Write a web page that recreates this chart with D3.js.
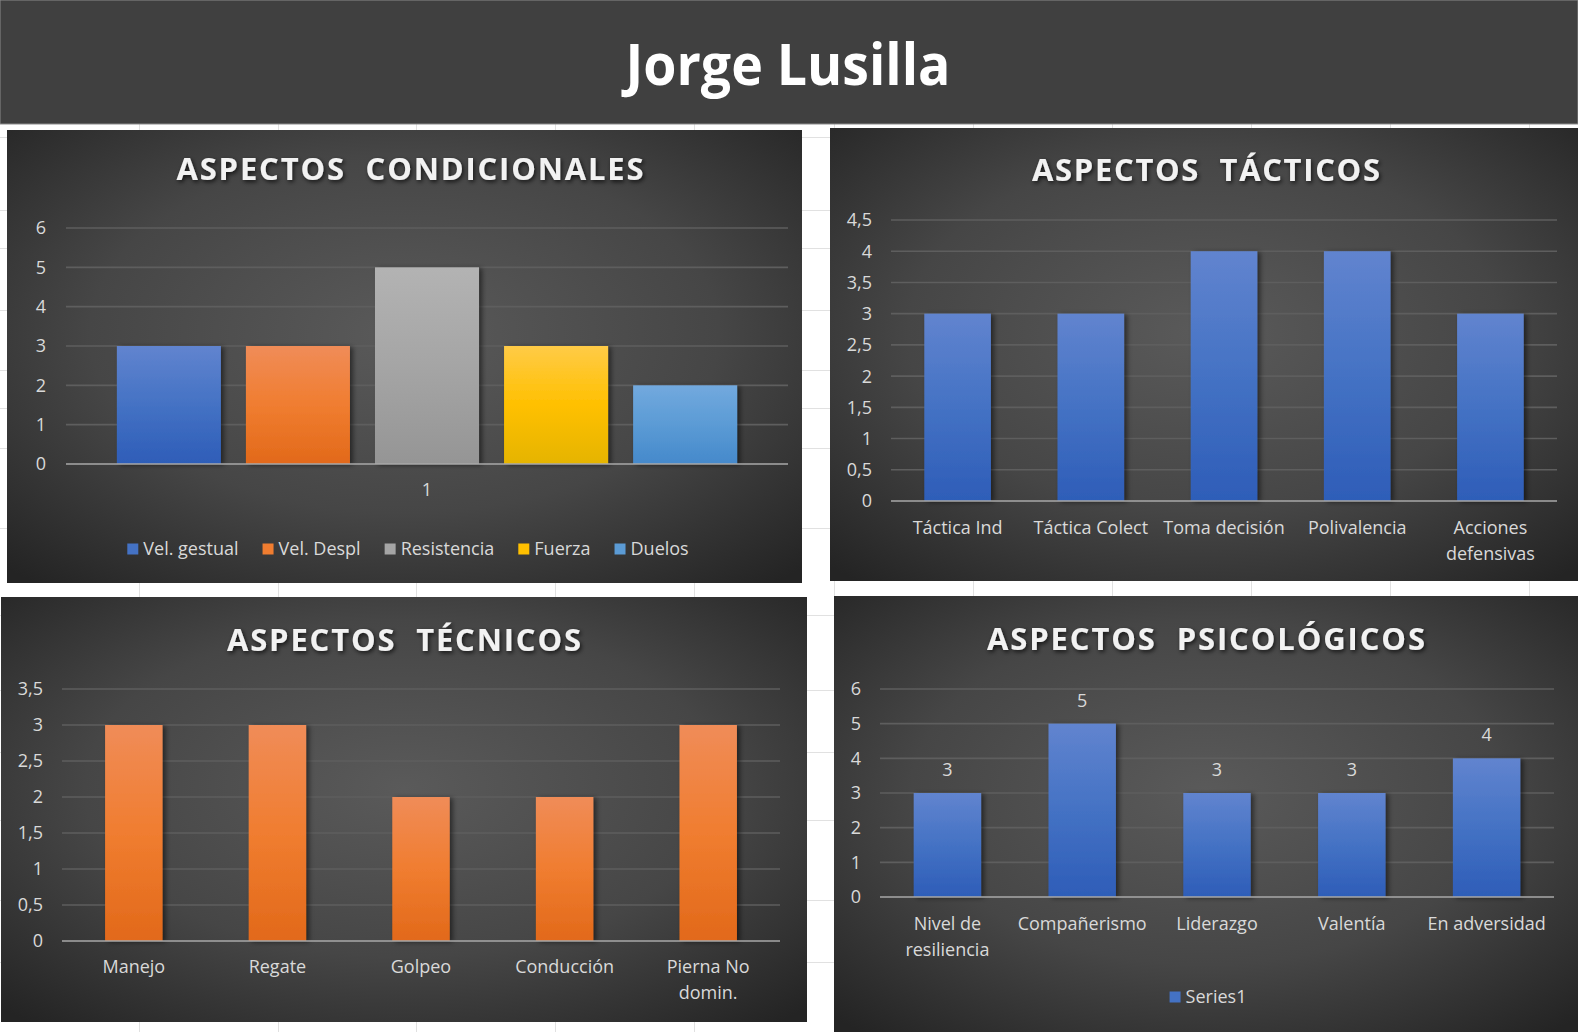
<!DOCTYPE html>
<html><head><meta charset="utf-8">
<script src="https://cdn.jsdelivr.net/npm/d3@7"></script>
<style>
html,body{margin:0;padding:0;background:#fff;overflow:hidden;}
svg{display:block;}
text{font-family:"Open Sans",sans-serif;}
</style></head><body>
<svg id="c" width="1578" height="1032"></svg>
<script>
// ---------------- DATA ----------------
const pageTitle = "Jorge Lusilla";

const condTitle = "ASPECTOS  CONDICIONALES";
const condCategories = ["1"];
const condSeries = ["Vel. gestual", "Vel. Despl", "Resistencia", "Fuerza", "Duelos"];
const condValues = [3, 3, 5, 3, 2];
const condTicks = [0, 1, 2, 3, 4, 5, 6];

const tactTitle = "ASPECTOS  TÁCTICOS";
const tactCategories = ["Táctica Ind", "Táctica Colect", "Toma decisión", "Polivalencia", "Acciones\ndefensivas"];
const tactValues = [3, 3, 4, 4, 3];
const tactTicks = [0, 0.5, 1, 1.5, 2, 2.5, 3, 3.5, 4, 4.5];

const tecTitle = "ASPECTOS  TÉCNICOS";
const tecCategories = ["Manejo", "Regate", "Golpeo", "Conducción", "Pierna No\ndomin."];
const tecValues = [3, 3, 2, 2, 3];
const tecTicks = [0, 0.5, 1, 1.5, 2, 2.5, 3, 3.5];

const psiTitle = "ASPECTOS  PSICOLÓGICOS";
const psiCategories = ["Nivel de\nresiliencia", "Compañerismo", "Liderazgo", "Valentía", "En adversidad"];
const psiSeries = ["Series1"];
const psiValues = [3, 5, 3, 3, 4];
const psiTicks = [0, 1, 2, 3, 4, 5, 6];

// ---------------- STYLE ----------------
const palette = {
  blue:   ["#6184cf", "#4472c4", "#2e5db8"],
  orange: ["#f08c58", "#f07d30", "#e2691a"],
  gray:   ["#b3b3b3", "#a5a5a5", "#959595"],
  yellow: ["#ffcb47", "#ffc000", "#e5b400"],
  lblue:  ["#72a9de", "#5b9bd5", "#4589cb"]
};
const condColors = ["blue", "orange", "gray", "yellow", "lblue"];

const svg = d3.select("#c");
const defs = svg.append("defs");

// page background spreadsheet grid
const sheetCols = [139, 278, 416, 555, 694, 834, 973, 1112, 1251, 1390, 1529];
const sheetRows = [137, 210, 248, 310, 370, 408, 448, 528, 615, 690, 752, 820, 900, 962];
svg.append("rect").attr("width", 1578).attr("height", 1032).attr("fill", "#ffffff");
svg.selectAll("line.vc").data(sheetCols).join("line")
  .attr("x1", d => d + 0.5).attr("x2", d => d + 0.5).attr("y1", 0).attr("y2", 1032)
  .attr("stroke", "#e1e1e1").attr("stroke-width", 1);
svg.selectAll("line.hr").data(sheetRows).join("line")
  .attr("x1", 0).attr("x2", 1578).attr("y1", d => d + 0.5).attr("y2", d => d + 0.5)
  .attr("stroke", "#e1e1e1").attr("stroke-width", 1);

// gradients
const rg = defs.append("radialGradient").attr("id", "panelBg")
  .attr("cx", "0.5").attr("cy", "0.45").attr("r", "0.72");
rg.append("stop").attr("offset", "0").attr("stop-color", "#5a5a5a");
rg.append("stop").attr("offset", "0.55").attr("stop-color", "#464646");
rg.append("stop").attr("offset", "1").attr("stop-color", "#242424");

Object.entries(palette).forEach(([k, c]) => {
  const g = defs.append("linearGradient").attr("id", "bar-" + k)
    .attr("x1", 0).attr("x2", 0).attr("y1", 0).attr("y2", 1);
  g.append("stop").attr("offset", "0").attr("stop-color", c[0]);
  g.append("stop").attr("offset", "0.5").attr("stop-color", c[1]);
  g.append("stop").attr("offset", "1").attr("stop-color", c[2]);
});

const fShadow = defs.append("filter").attr("id", "barShadow")
  .attr("x", "-20%").attr("y", "-10%").attr("width", "150%").attr("height", "130%");
fShadow.append("feDropShadow").attr("dx", 3).attr("dy", 1).attr("stdDeviation", 2.5)
  .attr("flood-color", "#000").attr("flood-opacity", 0.5);
const tShadow = defs.append("filter").attr("id", "txtShadow")
  .attr("x", "-10%").attr("y", "-30%").attr("width", "120%").attr("height", "160%");
tShadow.append("feDropShadow").attr("dx", 1.5).attr("dy", 2).attr("stdDeviation", 2)
  .attr("flood-color", "#000").attr("flood-opacity", 0.7);

// banner
svg.append("rect").attr("x", 0).attr("y", 0).attr("width", 1578).attr("height", 124)
  .attr("fill", "#404040").attr("stroke", "#8a8a8a").attr("stroke-width", 1);
svg.append("text").attr("x", 788).attr("y", 85)
  .attr("text-anchor", "middle").attr("fill", "#ffffff")
  .attr("font-size", 58).attr("font-weight", 700)
  .attr("textLength", 325).attr("lengthAdjust", "spacingAndGlyphs")
  .text(pageTitle);

const fmt = v => String(v).replace(".", ",");

function panel(cfg) {
  const g = svg.append("g");
  g.append("rect").attr("x", cfg.box[0]).attr("y", cfg.box[1])
    .attr("width", cfg.box[2]).attr("height", cfg.box[3]).attr("fill", "url(#panelBg)");
  g.append("text").attr("x", cfg.title.x).attr("y", cfg.title.y)
    .attr("text-anchor", "middle").attr("fill", "#f2f2f2")
    .attr("font-size", 31).attr("font-weight", 700)
    .style("white-space", "pre")
    .attr("textLength", cfg.title.w).attr("lengthAdjust", "spacing")
    .attr("filter", "url(#txtShadow)")
    .text(cfg.title.text);

  const y = d3.scaleLinear().domain([0, d3.max(cfg.ticks)]).range([cfg.plot.y0, cfg.plot.y1]);
  g.selectAll("line.grid").data(cfg.ticks.filter(t => t > 0)).join("line")
    .attr("x1", cfg.plot.x0).attr("x2", cfg.plot.x1)
    .attr("y1", d => y(d)).attr("y2", d => y(d))
    .attr("stroke", "#5e5e5e").attr("stroke-width", 1.6);
  g.selectAll("text.tick").data(cfg.ticks).join("text")
    .attr("x", cfg.tickX).attr("y", d => y(d)).attr("dy", "0.36em")
    .attr("text-anchor", "end").attr("fill", "#d9d9d9").attr("font-size", 18)
    .text(fmt);
  return { g, y };
}

function drawAxisLine(g, cfg, y) {
  g.append("line").attr("x1", cfg.plot.x0).attr("x2", cfg.plot.x1)
    .attr("y1", y(0)).attr("y2", y(0))
    .attr("stroke", "#a9a9a9").attr("stroke-width", 1.6);
}

function catLabels(g, cats, x, baseline, lh) {
  const t = g.selectAll("text.cat").data(cats).join("text")
    .attr("text-anchor", "middle").attr("fill", "#d9d9d9").attr("font-size", 18)
    .attr("y", baseline);
  t.each(function (d) {
    const lines = d.split("\n");
    const sel = d3.select(this);
    lines.forEach((ln, i) => {
      sel.append("tspan").attr("x", x(d) + x.bandwidth() / 2)
        .attr("dy", i === 0 ? 0 : lh).text(ln);
    });
  });
}

function legend(g, items, colors, cx, cy) {
  const lg = g.append("g");
  const widths = [];
  items.forEach((it) => {
    const t = lg.append("text").attr("font-size", 18).attr("fill", "#d9d9d9").text(it);
    widths.push(t.node().getComputedTextLength());
    t.remove();
  });
  const sq = 11, gap1 = 5, gap2 = 24;
  const total = d3.sum(widths) + items.length * (sq + gap1) + (items.length - 1) * gap2;
  let xx = cx - total / 2;
  items.forEach((it, i) => {
    lg.append("rect").attr("x", xx).attr("y", cy - sq / 2).attr("width", sq).attr("height", sq)
      .attr("fill", palette[colors[i]][1]);
    lg.append("text").attr("x", xx + sq + gap1).attr("y", cy).attr("dy", "0.36em")
      .attr("font-size", 18).attr("fill", "#d9d9d9").text(it);
    xx += sq + gap1 + widths[i] + gap2;
  });
}

// ---------- Chart 1: Condicionales ----------
{
  const cfg = {
    box: [7, 130, 795, 453],
    title: { text: condTitle, x: 410, y: 180, w: 467 },
    plot: { x0: 66, x1: 788, y0: 464, y1: 228 },
    ticks: condTicks, tickX: 46
  };
  const { g, y } = panel(cfg);
  const x0 = d3.scaleBand().domain(condCategories).range([cfg.plot.x0, cfg.plot.x1])
    .paddingInner(0).paddingOuter(0.082);
  const x1 = d3.scaleBand().domain(condSeries).range([0, x0.bandwidth()]).paddingInner(0.194);
  const rows = condSeries.map((s, i) => ({ cat: condCategories[0], s, v: condValues[i], c: condColors[i] }));
  g.selectAll("rect.bar").data(rows).join("rect")
    .attr("x", d => x0(d.cat) + x1(d.s)).attr("width", x1.bandwidth())
    .attr("y", d => y(d.v)).attr("height", d => y(0) - y(d.v))
    .attr("fill", d => "url(#bar-" + d.c + ")").attr("filter", "url(#barShadow)");
  drawAxisLine(g, cfg, y);
  g.selectAll("text.cat").data(condCategories).join("text")
    .attr("x", d => x0(d) + x0.bandwidth() / 2).attr("y", 496)
    .attr("text-anchor", "middle").attr("fill", "#d9d9d9").attr("font-size", 18).text(d => d);
  legend(g, condSeries, condColors, 408, 549);
}

// ---------- Chart 2: Tácticos ----------
{
  const cfg = {
    box: [830, 128, 748, 453],
    title: { text: tactTitle, x: 1206, y: 181, w: 348 },
    plot: { x0: 891, x1: 1557, y0: 501, y1: 220 },
    ticks: tactTicks, tickX: 872
  };
  const { g, y } = panel(cfg);
  const x = d3.scaleBand().domain(tactCategories).range([cfg.plot.x0, cfg.plot.x1])
    .paddingInner(0.5).paddingOuter(0.25);
  g.selectAll("rect.bar").data(tactCategories).join("rect")
    .attr("x", d => x(d)).attr("width", x.bandwidth())
    .attr("y", (d, i) => y(tactValues[i])).attr("height", (d, i) => y(0) - y(tactValues[i]))
    .attr("fill", "url(#bar-blue)").attr("filter", "url(#barShadow)");
  drawAxisLine(g, cfg, y);
  catLabels(g, tactCategories, x, 534, 26);
}

// ---------- Chart 3: Técnicos ----------
{
  const cfg = {
    box: [1, 597, 806, 425],
    title: { text: tecTitle, x: 404, y: 651, w: 354 },
    plot: { x0: 62, x1: 780, y0: 941, y1: 689 },
    ticks: tecTicks, tickX: 43
  };
  const { g, y } = panel(cfg);
  const x = d3.scaleBand().domain(tecCategories).range([cfg.plot.x0, cfg.plot.x1])
    .paddingInner(0.6).paddingOuter(0.3);
  g.selectAll("rect.bar").data(tecCategories).join("rect")
    .attr("x", d => x(d)).attr("width", x.bandwidth())
    .attr("y", (d, i) => y(tecValues[i])).attr("height", (d, i) => y(0) - y(tecValues[i]))
    .attr("fill", "url(#bar-orange)").attr("filter", "url(#barShadow)");
  drawAxisLine(g, cfg, y);
  catLabels(g, tecCategories, x, 973, 26);
}

// ---------- Chart 4: Psicológicos ----------
{
  const cfg = {
    box: [834, 596, 744, 436],
    title: { text: psiTitle, x: 1206, y: 650, w: 438 },
    plot: { x0: 880, x1: 1554, y0: 897, y1: 689 },
    ticks: psiTicks, tickX: 861
  };
  const { g, y } = panel(cfg);
  const x = d3.scaleBand().domain(psiCategories).range([cfg.plot.x0, cfg.plot.x1])
    .paddingInner(0.5).paddingOuter(0.25);
  g.selectAll("rect.bar").data(psiCategories).join("rect")
    .attr("x", d => x(d)).attr("width", x.bandwidth())
    .attr("y", (d, i) => y(psiValues[i])).attr("height", (d, i) => y(0) - y(psiValues[i]))
    .attr("fill", "url(#bar-blue)").attr("filter", "url(#barShadow)");
  drawAxisLine(g, cfg, y);
  g.selectAll("text.val").data(psiCategories).join("text")
    .attr("x", d => x(d) + x.bandwidth() / 2).attr("y", (d, i) => y(psiValues[i]) - 17)
    .attr("text-anchor", "middle").attr("fill", "#d9d9d9").attr("font-size", 18)
    .text((d, i) => psiValues[i]);
  catLabels(g, psiCategories, x, 930, 26);
  legend(g, psiSeries, ["blue"], 1208, 997);
}
</script>
</body></html>
